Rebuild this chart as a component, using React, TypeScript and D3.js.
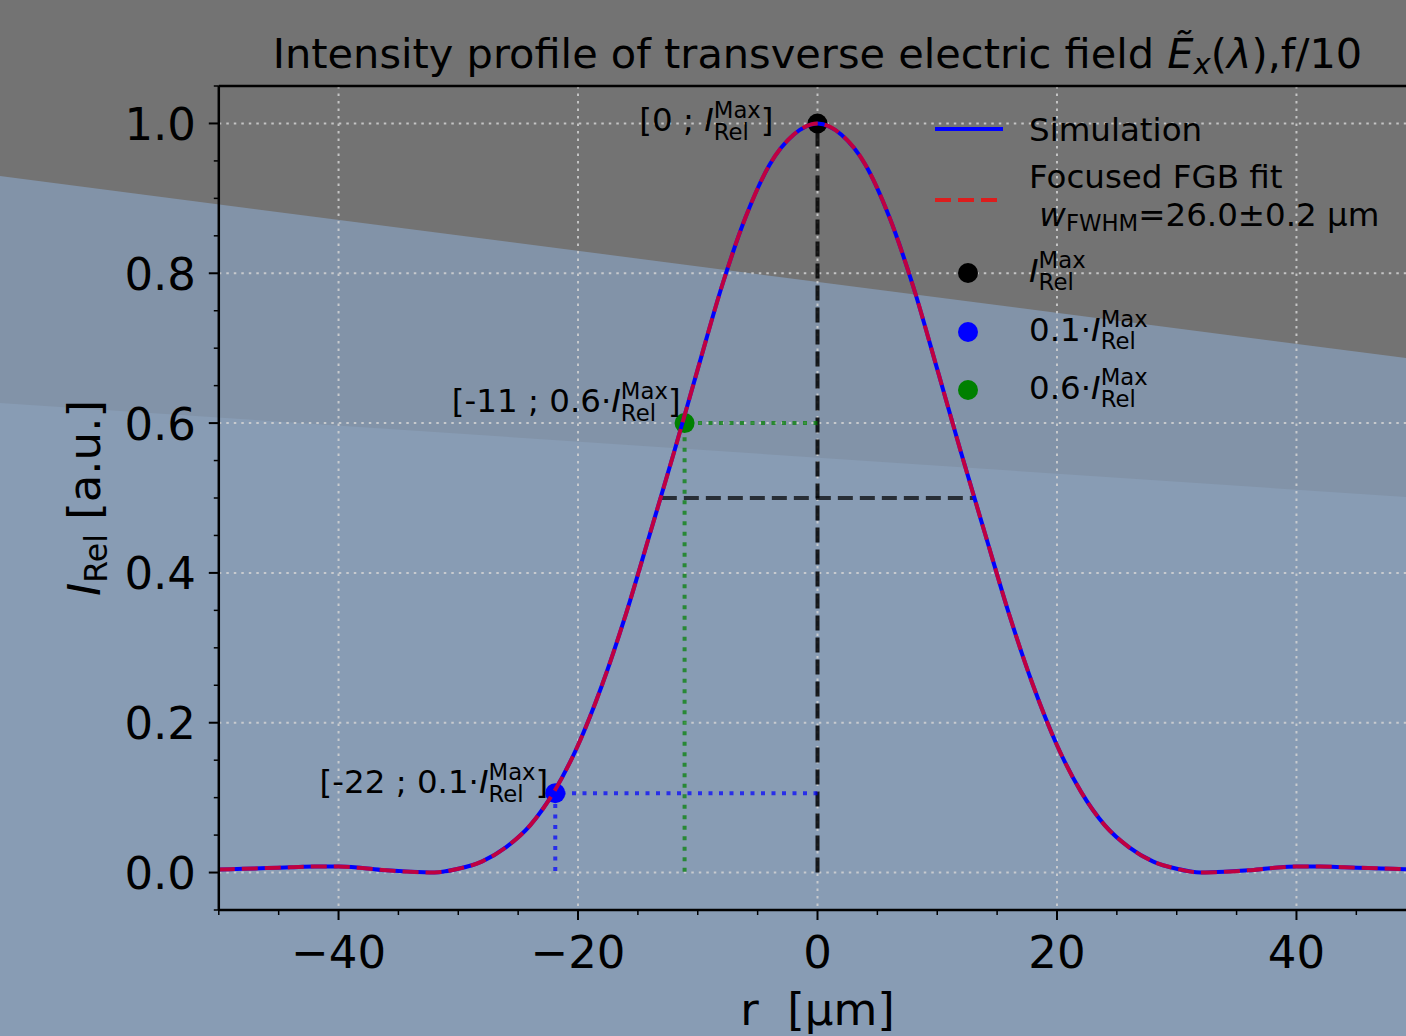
import React, { useEffect, useRef } from 'react'
import * as d3 from 'd3'

// radial positions [µm] and relative intensity
const rSamples = [
  -50, -48, -46, -44, -42, -40, -38, -36, -34, -32, -30, -28, -26, -24, -22, -20, -18, -16, -14, -12, -10, -8, -6, -4, -2,
  0, 2, 4, 6, 8, 10, 12, 14, 16, 18, 20, 22, 24, 26, 28, 30, 32, 34, 36, 38, 40, 42, 44, 46, 48, 50
]
const simIntensity = [
  0.004, 0.005, 0.006, 0.007, 0.008, 0.008, 0.006, 0.003, 0.001, 0.000, 0.005, 0.015, 0.034, 0.063, 0.108, 0.170, 0.250, 0.345, 0.452, 0.560, 0.672, 0.782, 0.875, 0.945, 0.985,
  1.000, 0.985, 0.945, 0.875, 0.782, 0.672, 0.560, 0.452, 0.345, 0.250, 0.170, 0.108, 0.063, 0.034, 0.015, 0.005, 0.000, 0.001, 0.003, 0.006, 0.008, 0.008, 0.007, 0.006, 0.005, 0.004
]
const fitIntensity = [
  0.004, 0.005, 0.006, 0.007, 0.008, 0.008, 0.006, 0.003, 0.001, 0.000, 0.005, 0.015, 0.034, 0.063, 0.108, 0.170, 0.250, 0.345, 0.452, 0.560, 0.672, 0.782, 0.875, 0.945, 0.985,
  1.000, 0.985, 0.945, 0.875, 0.782, 0.672, 0.560, 0.452, 0.345, 0.250, 0.170, 0.108, 0.063, 0.034, 0.015, 0.005, 0.000, 0.001, 0.003, 0.006, 0.008, 0.008, 0.007, 0.006, 0.005, 0.004
]

// marked points: max, 0.1*max, 0.6*max
const markerR = [0, -21.9, -11.1]
const markerI = [1.0, 0.106, 0.6]
const markerText = ['[0 ; ', '[-22 ; 0.1·', '[-11 ; 0.6·']
const fwhmHalf = 13.0

const xTicks = [-40, -20, 0, 20, 40]
const yTicks = [0, 0.2, 0.4, 0.6, 0.8, 1.0]

const W = 1406
const H = 1036
const FONT = 'DejaVu Sans'

type Seg = { t?: string, it?: boolean, sup?: string, sub?: string, scriptIt?: boolean }

function drawRich (parent: any, x: number, y: number, segs: Seg[], size: number, anchor: string) {
  const grp = parent.append('g')
  let cx = 0
  segs.forEach(s => {
    if (s.t !== undefined) {
      const el = grp.append('text')
        .attr('x', cx).attr('y', 0)
        .attr('font-size', size)
        .attr('font-style', s.it ? 'italic' : 'normal')
        .style('white-space', 'pre')
        .text(s.t)
      cx += el.node().getComputedTextLength()
    } else {
      let w = 0
      if (s.sup) {
        const el = grp.append('text')
          .attr('x', cx).attr('y', -0.41 * size)
          .attr('font-size', size * 0.7)
          .attr('font-style', s.scriptIt ? 'italic' : 'normal')
          .text(s.sup)
        w = Math.max(w, el.node().getComputedTextLength())
      }
      if (s.sub) {
        const el = grp.append('text')
          .attr('x', cx).attr('y', s.sup ? 0.26 * size : 0.15 * size)
          .attr('font-size', size * 0.7)
          .attr('font-style', s.scriptIt ? 'italic' : 'normal')
          .text(s.sub)
        w = Math.max(w, el.node().getComputedTextLength())
      }
      cx += w
    }
  })
  const shift = anchor === 'end' ? -cx : anchor === 'middle' ? -cx / 2 : 0
  grp.attr('transform', `translate(${x + shift},${y})`)
  return grp
}

const App = () => {
  const chartRef = useRef<SVGSVGElement>(null)

  useEffect(() => {
    const svg = d3.select(chartRef.current)
    svg.selectAll('*').remove()

    const x = d3.scaleLinear().domain([-50, 50]).range([218.8, 1416.2])
    const y = d3.scaleLinear().domain([-0.05, 1.05]).range([910, 86])
    const left = x(-50)
    const right = x(50)

    // background bands
    svg.append('rect').attr('width', W).attr('height', H).attr('fill', '#737373')
    svg.append('polygon').attr('points', `0,176 ${W},358 ${W},${H} 0,${H}`).attr('fill', '#8293a8')
    svg.append('polygon').attr('points', `0,403 ${W},497 ${W},${H} 0,${H}`).attr('fill', '#889cb4')

    // grid
    const grid = svg.append('g').attr('stroke', '#d4d4d4').attr('stroke-width', 2)
      .attr('stroke-dasharray', '2.5 5').attr('opacity', 0.85)
    xTicks.forEach(t => {
      grid.append('line').attr('x1', x(t)).attr('x2', x(t)).attr('y1', y(1.05)).attr('y2', y(-0.05))
    })
    yTicks.forEach(t => {
      grid.append('line').attr('x1', left).attr('x2', right).attr('y1', y(t)).attr('y2', y(t))
    })

    // guide lines
    svg.append('line')
      .attr('x1', x(0)).attr('x2', x(0)).attr('y1', y(0)).attr('y2', y(markerI[0]))
      .attr('stroke', '#000').attr('stroke-opacity', 0.85).attr('stroke-width', 4)
      .attr('stroke-dasharray', '15 7')
    svg.append('line')
      .attr('x1', x(-fwhmHalf)).attr('x2', x(fwhmHalf)).attr('y1', y(0.5)).attr('y2', y(0.5))
      .attr('stroke', '#000').attr('stroke-opacity', 0.7).attr('stroke-width', 4)
      .attr('stroke-dasharray', '15 7')

    const guide = d3.line<[number, number]>().x(d => x(d[0])).y(d => y(d[1]))
    const guideColors = ['', '#0000ff', '#008000']
    ;[1, 2].forEach(i => {
      svg.append('path')
        .attr('d', guide([[0, markerI[i]], [markerR[i], markerI[i]], [markerR[i], 0]]))
        .attr('fill', 'none').attr('stroke', guideColors[i]).attr('stroke-opacity', 0.7)
        .attr('stroke-width', 4).attr('stroke-dasharray', '4 6.5')
    })

    // markers
    const dotColors = ['#000000', '#0000ff', '#008000']
    markerR.forEach((r, i) => {
      svg.append('circle').attr('cx', x(r)).attr('cy', y(markerI[i])).attr('r', 10).attr('fill', dotColors[i])
    })

    // curves
    const line = d3.line<number>()
      .x((d, i) => x(rSamples[i]))
      .y(d => y(d))
      .curve(d3.curveMonotoneX)
    svg.append('path').attr('d', line(simIntensity))
      .attr('fill', 'none').attr('stroke', '#0000ff').attr('stroke-width', 4)
    svg.append('path').attr('d', line(fitIntensity))
      .attr('fill', 'none').attr('stroke', '#ff0000').attr('stroke-opacity', 0.75)
      .attr('stroke-width', 4).attr('stroke-dasharray', '16 7')

    // spines
    const spines = svg.append('g').attr('stroke', '#000').attr('stroke-width', 2.5)
    spines.append('line').attr('x1', left).attr('x2', left).attr('y1', y(1.05)).attr('y2', y(-0.05))
    spines.append('line').attr('x1', left).attr('x2', right).attr('y1', y(1.05)).attr('y2', y(1.05))
    spines.append('line').attr('x1', left).attr('x2', right).attr('y1', y(-0.05)).attr('y2', y(-0.05))

    // ticks
    const ticks = svg.append('g').attr('stroke', '#000')
    d3.range(-50, 50.1, 5).forEach(t => {
      const major = xTicks.includes(t)
      ticks.append('line').attr('x1', x(t)).attr('x2', x(t))
        .attr('y1', y(-0.05)).attr('y2', y(-0.05) + (major ? 10 : 5))
        .attr('stroke-width', major ? 2 : 1.5)
    })
    d3.range(-0.05, 1.06, 0.05).forEach(t => {
      const major = yTicks.some(v => Math.abs(v - t) < 1e-6)
      ticks.append('line').attr('y1', y(t)).attr('y2', y(t))
        .attr('x1', left).attr('x2', left - (major ? 10 : 5))
        .attr('stroke-width', major ? 2 : 1.5)
    })

    const fmtX = d3.format('d')
    const fmtY = d3.format('.1f')
    xTicks.forEach(t => {
      svg.append('text').attr('x', x(t)).attr('y', 968).attr('text-anchor', 'middle')
        .attr('font-size', 45).text(fmtX(t))
    })
    yTicks.forEach(t => {
      svg.append('text').attr('x', 196).attr('y', y(t) + 16.5).attr('text-anchor', 'end')
        .attr('font-size', 45).text(fmtY(t))
    })

    // axis labels
    svg.append('text').attr('x', (left + right) / 2).attr('y', 1025).attr('text-anchor', 'middle')
      .attr('font-size', 45).style('white-space', 'pre').text('r  [µm]')
    const yl = svg.append('g').attr('transform', `translate(100,${(y(1.05) + y(-0.05)) / 2}) rotate(-90)`)
    drawRich(yl, 0, 0, [{ t: 'I', it: true }, { sub: 'Rel' }, { t: ' [a.u.]' }], 45, 'middle')

    // title
    drawRich(svg, (left + right) / 2, 68, [
      { t: 'Intensity profile of transverse electric field ' },
      { t: 'Ẽ', it: true },
      { sub: 'x', scriptIt: true },
      { t: '(' },
      { t: 'λ', it: true },
      { t: '),f/10' }
    ], 41.5, 'middle')

    // annotations
    const annDx = [-44, -7, -4]
    const annDy = [8, 0, -10.7]
    markerR.forEach((r, i) => {
      drawRich(svg, x(r) + annDx[i], y(markerI[i]) + annDy[i], [
        { t: markerText[i] },
        { t: 'I', it: true },
        { sup: 'Max', sub: 'Rel' },
        { t: ']' }
      ], 32.5, 'end')
    })

    // legend
    const lg = svg.append('g')
    lg.append('line').attr('x1', 935).attr('x2', 1003).attr('y1', 129).attr('y2', 129)
      .attr('stroke', '#0000ff').attr('stroke-width', 4)
    drawRich(lg, 1029, 141, [{ t: 'Simulation' }], 32.5, 'start')
    lg.append('line').attr('x1', 935).attr('x2', 1003).attr('y1', 200).attr('y2', 200)
      .attr('stroke', '#ff0000').attr('stroke-opacity', 0.75).attr('stroke-width', 4)
      .attr('stroke-dasharray', '16 7')
    drawRich(lg, 1029, 188, [{ t: 'Focused FGB fit' }], 32.5, 'start')
    drawRich(lg, 1029, 226, [{ t: ' ' }, { t: 'w', it: true }, { sub: 'FWHM' }, { t: '=26.0±0.2 µm' }], 32.5, 'start')
    const legendPrefix = ['', '0.1·', '0.6·']
    const legendY = [273, 332, 390]
    legendY.forEach((ly, i) => {
      lg.append('circle').attr('cx', 968).attr('cy', ly).attr('r', 10).attr('fill', dotColors[i])
      drawRich(lg, 1029, ly + 8.5, [
        { t: legendPrefix[i] },
        { t: 'I', it: true },
        { sup: 'Max', sub: 'Rel' }
      ], 32.5, 'start')
    })
  }, [])

  return (
    <svg
      ref={chartRef}
      width={W}
      height={H}
      style={{ position: 'absolute', left: 0, top: 0, display: 'block', fontFamily: FONT }}
    />
  )
}

export default App
